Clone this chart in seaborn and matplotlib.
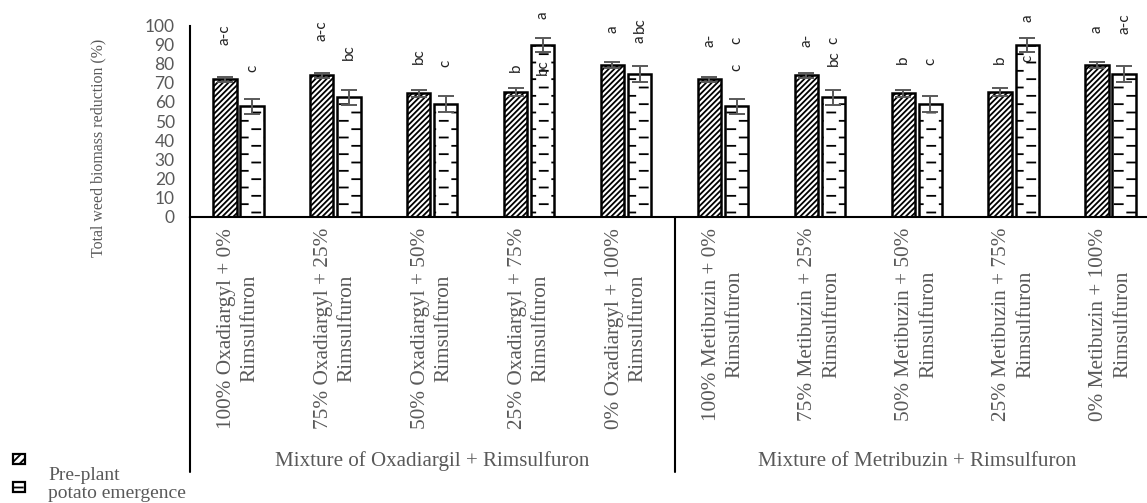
import matplotlib
matplotlib.use("Agg")
import matplotlib.pyplot as plt
import matplotlib.hatch as mhatch
from matplotlib.path import Path
from matplotlib.patches import Rectangle
import pandas as pd
import seaborn as sns

# ---------------------------------------------------------------- data
categories = [
    "100% Oxadiargyl + 0%\nRimsulfuron",
    "75% Oxadiargyl + 25%\nRimsulfuron",
    "50% Oxadiargyl + 50%\nRimsulfuron",
    "25% Oxadiargyl + 75%\nRimsulfuron",
    "0% Oxadiargyl + 100%\nRimsulfuron",
    "100% Metibuzin + 0%\nRimsulfuron",
    "75% Metibuzin + 25%\nRimsulfuron",
    "50% Metibuzin + 50%\nRimsulfuron",
    "25% Metibuzin + 75%\nRimsulfuron",
    "0% Metibuzin + 100%\nRimsulfuron",
]
series = ["Pre-plant", "potato emergence"]
preplant = [72.0, 74.0, 64.5, 65.2, 79.3, 72.0, 74.0, 64.5, 65.2, 79.3]
emergence = [57.8, 62.4, 59.0, 90.0, 74.5, 57.8, 62.4, 59.0, 90.0, 74.5]
preplant_err = [1.3, 1.2, 1.7, 1.9, 1.7, 1.3, 1.2, 1.7, 1.9, 1.7]
emergence_err = [4.0, 3.8, 4.1, 3.6, 4.2, 4.0, 3.8, 4.1, 3.6, 4.2]
groups = ["Mixture of Oxadiargil + Rimsulfuron", "Mixture of Metribuzin + Rimsulfuron"]
yticks = list(range(0, 101, 10))

# mean-separation letters: category index, series index, text, height
letter_cat = [0, 0, 1, 1, 2, 2, 3, 3, 3, 4, 4, 4, 5, 5, 5, 6, 6, 6, 7, 7, 8, 8, 8, 9, 9]
letter_ser = [0, 1, 0, 1, 0, 1, 0, 1, 1, 0, 1, 1, 0, 1, 1, 0, 1, 1, 0, 1, 0, 1, 1, 0, 1]
letter_txt = ["a-c", "c", "a-c", "bc", "bc", "c", "b", "a", "bc", "a", "bc", "a",
              "a-", "c", "c", "a-", "c", "bc", "b", "c", "b", "a", "c", "a", "a-c"]
letter_y = [95, 77.7, 97.5, 86, 84, 80.3, 78, 105.4, 78, 98, 100, 92.8,
            92, 92.3, 78, 92, 92, 83, 82, 81, 82, 104, 83, 98, 100.7]


# ------------------------------------------- staggered short-dash hatch
class DashRowHatch(mhatch.HatchPatternBase):
    """Rows of short horizontal dashes, alternately offset; used for '-'."""

    def __init__(self, hatch, density):
        self.num_rows = int((hatch.count('-') + hatch.count('+')) * density)
        self.per_row = 4
        self.num_vertices = self.num_rows * self.per_row * 2

    def set_vertices_and_codes(self, vertices, codes):
        half = 0.04
        k = 0
        for i in range(self.num_rows):
            y = (i + 0.5) / self.num_rows
            shift = 0.25 if i % 2 == 0 else 0.75
            for j in range(self.per_row):
                xc = (j + shift) / self.per_row
                vertices[k] = (xc - half, y)
                vertices[k + 1] = (xc + half, y)
                codes[k] = Path.MOVETO
                codes[k + 1] = Path.LINETO
                k += 2


mhatch._hatch_types = [DashRowHatch if t is mhatch.HorizontalHatch else t
                       for t in mhatch._hatch_types]

# ---------------------------------------------------------------- style
sns.set_style("white")
plt.rcParams["font.family"] = ["Liberation Serif", "DejaVu Serif"]
plt.rcParams["hatch.linewidth"] = 1.3
plt.rcParams["hatch.color"] = "black"

GREY = "#595959"
SERIF = "Liberation Serif"
SANS = "Lato"

W, H = 1147, 503
fig = plt.figure(figsize=(W / 100, H / 100), dpi=100)
fig.patch.set_facecolor("white")
ax = fig.add_axes([190 / W, (H - 216.7) / H, 969 / W, 191.2 / H])

df = pd.DataFrame({
    "treatment": categories * 2,
    "timing": [series[0]] * len(categories) + [series[1]] * len(categories),
    "reduction": preplant + emergence,
})

sns.barplot(data=df, x="treatment", y="reduction", hue="timing",
            order=categories, hue_order=series, palette=["white", "white"],
            saturation=1, edgecolor="black", linewidth=1.8,
            width=0.56, gap=0.14, errorbar=None, legend=False, ax=ax, zorder=2)

hatches = ["//////", "--"]
errs = [preplant_err, emergence_err]
for cont, hatch, err in zip(ax.containers, hatches, errs):
    xs, ys = [], []
    for bar in cont:
        bar.set_hatch(hatch)
        xs.append(bar.get_x() + bar.get_width() / 2)
        ys.append(bar.get_height())
    ax.errorbar(xs, ys, yerr=err, fmt="none", ecolor=GREY, elinewidth=1.4,
                capsize=6, capthick=1.4, zorder=3)

for c, s, t, y in zip(letter_cat, letter_ser, letter_txt, letter_y):
    bar = ax.containers[s][c]
    ax.text(bar.get_x() + bar.get_width() / 2, y, t, rotation=90,
            ha="center", va="center", fontsize=11, family=SANS,
            color="#222222", clip_on=False, zorder=4)

# axes
ax.set_xlim(-0.5, 9.5)
ax.set_ylim(0, 100)
ax.set_yticks(yticks)
ax.set_yticklabels([str(v) for v in yticks], family=SANS, fontsize=12.5, color=GREY)
ax.tick_params(axis="y", direction="out", length=5, width=1.4, color="black", pad=6)
ax.set_xticks(range(len(categories)))
ax.set_xticklabels(categories, rotation=90, va="top", ha="center",
                   multialignment="center", linespacing=1.35,
                   family=SERIF, fontsize=15.3, color=GREY)
ax.tick_params(axis="x", length=0, pad=8)
ax.set_xlabel("")
ax.set_ylabel("Total weed biomass reduction (%)", family=SERIF, fontsize=11.4, color=GREY)
ax.yaxis.set_label_coords(-0.086, 0.36)

for side in ["top", "right"]:
    ax.spines[side].set_visible(False)
for side in ["left", "bottom"]:
    ax.spines[side].set_linewidth(1.5)
    ax.spines[side].set_color("black")

# group boxes under the category labels
trans = ax.get_xaxis_transform()
for xv in [-0.5, 4.5, 9.5]:
    ax.plot([xv, xv], [0, -1.335], transform=trans, color="black", lw=1.5,
            clip_on=False, zorder=5)
for gx, gname in zip([2, 7], groups):
    ax.text(gx, -1.278, gname, transform=trans, ha="center", va="center",
            family=SERIF, fontsize=15.1, color=GREY)

# legend
fig.add_artist(Rectangle((13 / W, 1 - 464 / H), 12 / W, 10 / H,
                         transform=fig.transFigure, facecolor="white",
                         edgecolor="black", hatch="////", lw=1.6))
fig.add_artist(Rectangle((13 / W, 1 - 492 / H), 12 / W, 10 / H,
                         transform=fig.transFigure, facecolor="white",
                         edgecolor="black", hatch="--", lw=1.6))
fig.text(48 / W, 1 - 476 / H, series[0], va="center", ha="left",
         family=SERIF, fontsize=14, color=GREY)
fig.text(48 / W, 1 - 494 / H, series[1], va="center", ha="left",
         family=SERIF, fontsize=14, color=GREY)

fig.savefig("out.png", dpi=100, facecolor="white")
